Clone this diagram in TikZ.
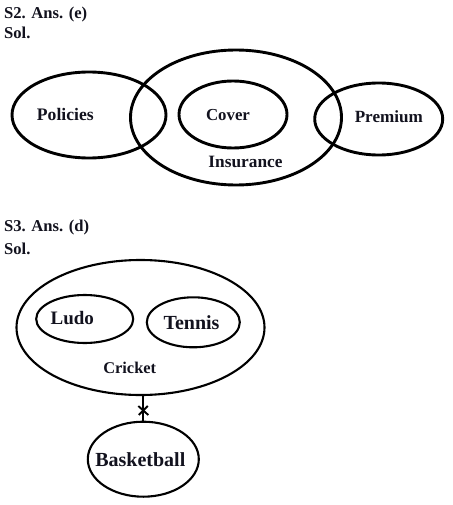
\documentclass[tikz,border=0pt]{standalone}
\usepackage{fontspec}
\setmainfont{Liberation Serif}
\usetikzlibrary{shapes.geometric}
\definecolor{ink}{RGB}{18,18,30}
\tikzset{
  ell/.style={ellipse, draw=black, inner sep=0pt, line width=2.9pt},
  ellthin/.style={ellipse, draw=black, inner sep=0pt, line width=2.1pt},
  lbl/.style={text=ink, inner sep=0pt, font=\bfseries\fontsize{#1}{#1}\selectfont},
  hdr/.style={text=ink, inner sep=0pt, anchor=west, font=\bfseries\fontsize{16.6}{18}\selectfont},
}
\begin{document}
\begin{tikzpicture}[x=1pt,y=-1pt]
\useasboundingbox (0,0) rectangle (452,505);
% headers
\node[hdr] (h1) at (4,15) {S2. Ans. (e)};
\node[hdr] (s1) at (4,33) {Sol.};
\node[hdr] (h2) at (4,228) {S3. Ans. (d)};
\node[hdr] (s2) at (4,249) {Sol.};
% S2 diagram
\node[ell, minimum width=154pt, minimum height=86pt] (policies) at (89,115) {};
\node[ell, minimum width=211pt, minimum height=135pt] (insurance) at (236,117.5) {};
\node[ell, minimum width=108pt, minimum height=67pt] (cover) at (233,114.5) {};
\node[ell, minimum width=128pt, minimum height=72pt] (premium) at (378.7,119) {};
\node[lbl=17.6] (tpol) at (65.3,114) {Policies};
\node[lbl=16.8] (tcov) at (228,115) {Cover};
\node[lbl=17.3] (tins) at (245.5,162) {Insurance};
\node[lbl=17.1] (tpre) at (388.8,116.7) {Premium};
% S3 diagram
\node[ellthin, minimum width=248pt, minimum height=135pt] (cricket) at (140.5,327.5) {};
\node[ellthin, minimum width=97pt, minimum height=48pt] (ludo) at (84.7,319) {};
\node[ellthin, minimum width=93pt, minimum height=50pt] (tennis) at (193.3,322.3) {};
\node[ellthin, minimum width=111pt, minimum height=75pt] (basket) at (143.3,459.2) {};
\node[lbl=19] (tludo) at (72.3,318.3) {Ludo};
\node[lbl=20] (tten) at (191.5,322.3) {Tennis};
\node[lbl=16.4] (tcri) at (129.7,367.7) {Cricket};
\node[lbl=20] (tbas) at (140.3,460) {Basketball};
% connector with cross
\coordinate (x) at (143.3,410.5);
\draw[line width=2.3pt] (cricket.south -| basket.north) -- (basket.north);
\draw[line width=1.9pt] ([shift={(-5,-4.5)}]x) -- ([shift={(5,4.5)}]x);
\draw[line width=1.9pt] ([shift={(-4.5,4.5)}]x) -- ([shift={(4.5,-4.5)}]x);
\end{tikzpicture}
\end{document}
